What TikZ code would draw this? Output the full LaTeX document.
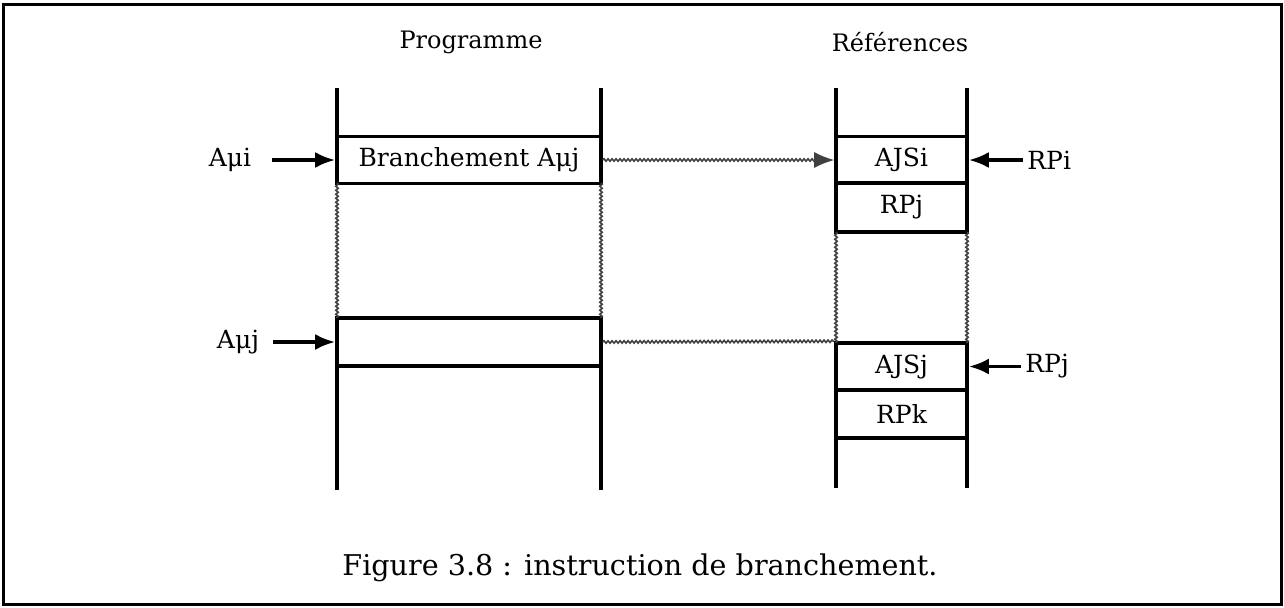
\documentclass[tikz,border=0pt]{standalone}
\usepackage{fontspec}
\setmainfont{DejaVu Serif}
\usetikzlibrary{arrows.meta,decorations.pathmorphing}

\tikzset{
  cellP/.style={draw,line width=1.8pt,minimum width=132pt,minimum height=23.5pt,inner sep=0pt,font=\fontsize{12.5}{14}\selectfont},
  cellR/.style={draw,line width=1.8pt,minimum width=65.5pt,minimum height=23.5pt,inner sep=0pt,font=\fontsize{12.5}{14}\selectfont},
  lab/.style={inner sep=2pt,font=\fontsize{12.5}{14}\selectfont},
  wavy/.style={line width=0.8pt,black!75,decorate,decoration={snake,amplitude=0.6pt,segment length=2pt}},
  feed/.style={-{Latex[length=10pt,width=8pt]},line width=1.8pt},
}

\begin{document}
\begin{tikzpicture}[x=0.5pt,y=-0.5pt,line cap=butt,line join=miter]
  \useasboundingbox (0,0) rectangle (1284,607);
  \draw[line width=1.5pt] (3,4) rectangle (1281,604);

  % titres
  \node[lab,font=\fontsize{12}{14}\selectfont] (tprog) at (471,42) {Programme};
  \node[lab,font=\fontsize{12}{14}\selectfont] (tref) at (900,42) {Références};

  % colonne programme
  \node[cellP] (br) at (469,160) {Branchement Aμj};
  \node[cellP,minimum height=24pt] (bj) at (469,342) {};
  \foreach \x in {337,601} {
    \draw[line width=1.8pt] (\x,88) -- (\x,183);
    \draw[wavy] (\x,183) -- (\x,318);
    \draw[line width=1.8pt] (\x,318) -- (\x,490);
  }

  % colonne references
  \node[cellR] (ajsi) at (901.5,160) {AJSi};
  \node[cellR,minimum height=24.5pt] (rpj) at (901.5,207.5) {RPj};
  \node[cellR] (ajsj) at (901.5,366.5) {AJSj};
  \node[cellR,minimum height=24pt] (rpk) at (901.5,414) {RPk};
  \foreach \x in {836,967} {
    \draw[line width=1.8pt] (\x,88) -- (\x,232);
    \draw[wavy] (\x,232) -- (\x,343);
    \draw[line width=1.8pt] (\x,343) -- (\x,488);
  }

  % entrees
  \node[lab] (ami) at (230,160) {Aμi};
  \node[lab] (amj) at (238,342) {Aμj};
  \node[lab,anchor=west] (rpi) at (1023,160) {RPi};
  \node[lab,anchor=west] (rpjj) at (1021,366.5) {RPj};
  \draw[feed,shorten <=8pt] (ami.east) -- (br.west);
  \draw[feed,shorten <=5pt] (amj.east) -- (bj.west);
  \draw[feed] (rpi.west) -- (ajsi.east);
  \draw[feed] (rpjj.west) -- (ajsj.east);

  % liens
  \draw[wavy,decoration={post length=9pt},-{Latex[length=10pt,width=8pt]}] (br.east) -- (ajsi.west);
  \draw[wavy] (bj.east) -- (ajsj.north west);

  \node[lab,font=\fontsize{14.3}{16}\selectfont] (cap) at (640,568) {Figure 3.8 : instruction de branchement.};
\end{tikzpicture}
\end{document}
